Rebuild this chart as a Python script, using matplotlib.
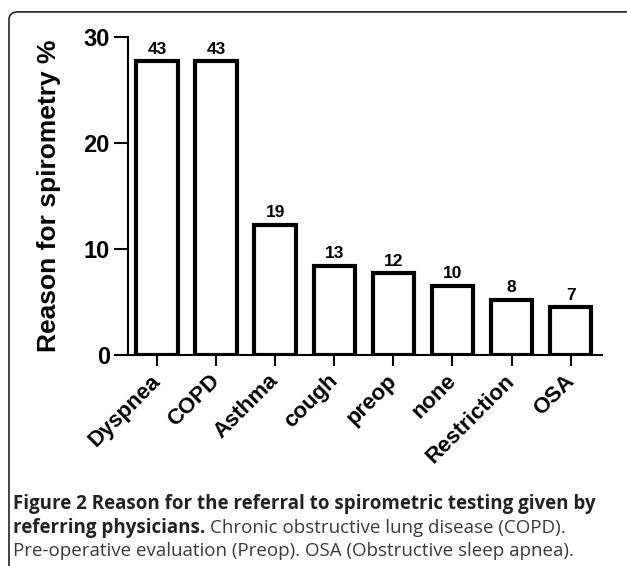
import matplotlib
matplotlib.use("Agg")
import matplotlib.pyplot as plt
import matplotlib.transforms as mtransforms
from matplotlib.patches import FancyBboxPatch

# data
reasons = ["Dyspnea", "COPD", "Asthma", "cough", "preop", "none", "Restriction", "OSA"]
percent = [27.7, 27.7, 12.3, 8.4, 7.7, 6.5, 5.2, 4.5]
counts = [43, 43, 19, 13, 12, 10, 8, 7]
yticks = [0, 10, 20, 30]

plt.rcParams["font.family"] = ["Liberation Sans", "DejaVu Sans"]

fig = plt.figure(figsize=(6.27, 5.66), dpi=100)

# outer frame with rounded corner (right/bottom run off the picture)
frame = FancyBboxPatch((9 / 627, -0.05), 1.2, 0.979 + 0.05,
                       boxstyle="round,pad=0,rounding_size=0.014",
                       transform=fig.transFigure, fill=False,
                       edgecolor="#222222", linewidth=1.2)
fig.patches.append(frame)

ax = fig.add_axes([128 / 627, 211 / 566, 474 / 627, 318 / 566])
x = range(len(reasons))
ax.bar(x, percent, width=0.7, color="white", edgecolor="black", linewidth=3.0)

for xi, p, c in zip(x, percent, counts):
    ax.text(xi, p + 0.45, str(c), ha="center", va="bottom",
            fontsize=12.5, fontweight="bold")

ax.set_xlim(-0.49, 7.53)
ax.set_ylim(0, 30)
ax.set_yticks(yticks)
ax.set_xticks(list(x))
ax.tick_params(axis="y", length=10, width=1.5, pad=3)
ax.tick_params(axis="x", length=8, width=1.5, pad=6)
ax.set_xticklabels(reasons, rotation=45, ha="right", va="top", rotation_mode="anchor",
                   fontsize=16, fontweight="bold")
# nudge the slanted labels so their ends sit under the ticks
shift = mtransforms.ScaledTranslation(-7 / 100, 4 / 100, fig.dpi_scale_trans)
for lab in ax.get_xticklabels():
    lab.set_transform(lab.get_transform() + shift)
for lab in ax.get_yticklabels():
    lab.set_fontweight("bold")
    lab.set_fontsize(17)
ax.set_ylabel("Reason for spirometry %", fontsize=19, fontweight="bold", labelpad=16)

for side in ["top", "right"]:
    ax.spines[side].set_visible(False)
for side in ["left", "bottom"]:
    ax.spines[side].set_linewidth(1.5)

# caption
cap_font = ["Open Sans", "DejaVu Sans"]
cap_size = 13.5
x0 = 13 / 627
fig.text(x0, 1 - 504 / 566, "Figure 2 Reason for the referral to spirometric testing given by",
         family=cap_font, fontsize=cap_size, fontweight="bold", color="#222222", va="center")
t2 = fig.text(x0, 1 - 528 / 566, "referring physicians.",
              family=cap_font, fontsize=cap_size, fontweight="bold", color="#222222", va="center")
fig.text(x0, 1 - 551 / 566, "Pre-operative evaluation (Preop). OSA (Obstructive sleep apnea).",
         family=cap_font, fontsize=cap_size, color="#3a3a3a", va="center")

fig.canvas.draw()
bb = t2.get_window_extent().transformed(fig.transFigure.inverted())
fig.text(bb.x1 + 5 / 627, 1 - 528 / 566, "Chronic obstructive lung disease (COPD).",
         family=cap_font, fontsize=cap_size, color="#3a3a3a", va="center")

fig.savefig("out.png", dpi=100)
